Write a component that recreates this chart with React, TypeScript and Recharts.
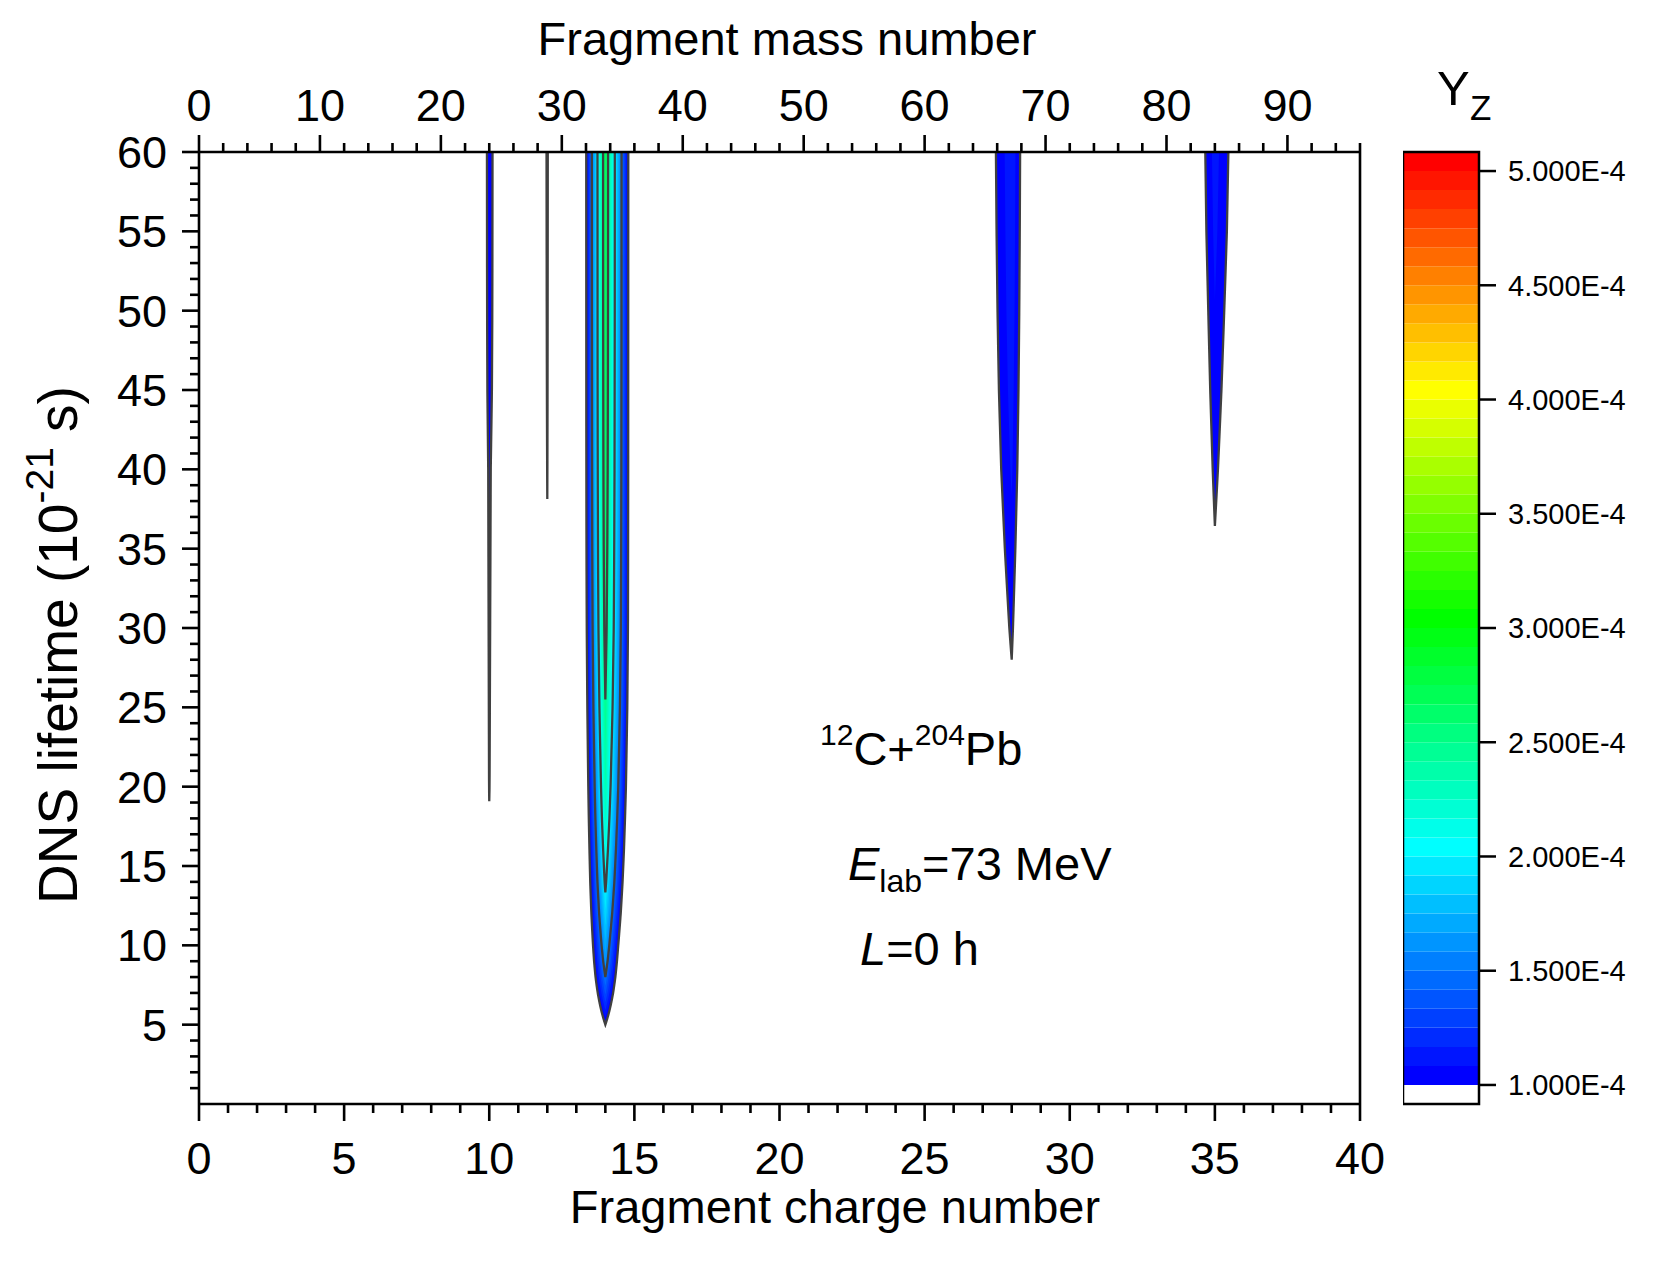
import React from 'react';
import { ComposedChart, Area, Line, XAxis, YAxis, ReferenceLine, ReferenceArea } from 'recharts';

const FONT = '"Liberation Sans", Arial, Helvetica, sans-serif';

// ---------------- data ----------------
// DNS lifetime grid (units of 1E-21 s)
const lifetimes = [0, 2, 4, 5, 6, 7, 8, 9, 10, 12, 14, 16, 18, 20, 25, 30, 35, 40, 45, 50, 55, 60];

// Yield Y_Z (units of 1E-4) for each fragment charge, same order as lifetimes
const yieldZ9 = [0, 0.04, 0.07, 0.09, 0.1, 0.11, 0.12, 0.13, 0.14, 0.15, 0.16, 0.17, 0.18, 0.18, 0.185, 0.19, 0.19, 0.19, 0.19, 0.19, 0.19, 0.19];
const yieldZ10 = [0, 0.2, 0.4, 0.5, 0.55, 0.6, 0.65, 0.7, 0.75, 0.82, 0.89, 0.95, 0.993, 1.006, 1.012, 1.018, 1.024, 1.03, 1.056, 1.065, 1.068, 1.07];
const yieldZ11 = [0, 0.08, 0.17, 0.21, 0.23, 0.25, 0.27, 0.29, 0.31, 0.34, 0.37, 0.4, 0.42, 0.43, 0.435, 0.44, 0.44, 0.445, 0.445, 0.45, 0.45, 0.45];
const yieldZ12 = [0, 0.18, 0.38, 0.47, 0.55, 0.62, 0.68, 0.73, 0.77, 0.83, 0.87, 0.9, 0.92, 0.94, 0.97, 0.985, 0.995, 1.003, 1.008, 1.011, 1.013, 1.015];
const yieldZ13 = [0, 0.005, 0.01, 0.012, 0.015, 0.018, 0.02, 0.022, 0.025, 0.03, 0.035, 0.04, 0.05, 0.06, 0.09, 0.11, 0.12, 0.12, 0.12, 0.12, 0.12, 0.12];
const yieldZ14 = [0, 0.3, 0.78, 1.0, 1.18, 1.35, 1.5, 1.62, 1.72, 1.9, 2.05, 2.16, 2.26, 2.34, 2.49, 2.59, 2.64, 2.67, 2.685, 2.695, 2.7, 2.7];
const yieldZ15 = [0, 0.01, 0.02, 0.025, 0.03, 0.04, 0.05, 0.07, 0.1, 0.2, 0.28, 0.35, 0.4, 0.45, 0.52, 0.55, 0.55, 0.55, 0.55, 0.55, 0.55, 0.55];
const yieldZ27 = [0, 0.08, 0.15, 0.19, 0.23, 0.27, 0.3, 0.34, 0.38, 0.46, 0.52, 0.57, 0.62, 0.67, 0.74, 0.775, 0.806, 0.832, 0.85, 0.861, 0.869, 0.874];
const yieldZ28 = [0, 0.1, 0.2, 0.25, 0.3, 0.35, 0.4, 0.45, 0.5, 0.6, 0.68, 0.75, 0.82, 0.88, 0.97, 1.02, 1.06, 1.095, 1.118, 1.133, 1.143, 1.15];
const yieldZ29 = [0, 0.06, 0.11, 0.14, 0.17, 0.19, 0.22, 0.25, 0.28, 0.33, 0.37, 0.41, 0.45, 0.48, 0.53, 0.56, 0.583, 0.602, 0.615, 0.623, 0.629, 0.633];
const yieldZ34 = [0, 0.05, 0.11, 0.135, 0.16, 0.19, 0.22, 0.24, 0.27, 0.32, 0.37, 0.42, 0.46, 0.5, 0.58, 0.64, 0.668, 0.692, 0.712, 0.729, 0.746, 0.756];
const yieldZ35 = [0, 0.08, 0.16, 0.2, 0.24, 0.28, 0.32, 0.36, 0.4, 0.48, 0.55, 0.62, 0.68, 0.74, 0.86, 0.95, 0.99, 1.025, 1.055, 1.08, 1.105, 1.12];
const yieldZ36 = [0, 0.06, 0.12, 0.15, 0.18, 0.22, 0.25, 0.28, 0.31, 0.37, 0.42, 0.48, 0.52, 0.57, 0.66, 0.73, 0.762, 0.789, 0.812, 0.832, 0.851, 0.862];

const chargeColumns: Record<number, number[]> = {
  9: yieldZ9, 10: yieldZ10, 11: yieldZ11, 12: yieldZ12, 13: yieldZ13, 14: yieldZ14, 15: yieldZ15,
  27: yieldZ27, 28: yieldZ28, 29: yieldZ29, 34: yieldZ34, 35: yieldZ35, 36: yieldZ36,
};
const peakCharges = [10, 12, 14, 28, 35];

// contour levels (units of 1E-4)
const fillLevels = Array.from({ length: 49 }, (_, i) => 1 + i / 12);
const contourLineLevels = [1.0, 1.5, 2.0, 2.5];
const colorbarTicks = [1.0, 1.5, 2.0, 2.5, 3.0, 3.5, 4.0, 4.5, 5.0];
const colorbarMin = 1 - 1 / 12;
const colorbarMax = 5 + 1 / 12;

// axis ticks
const chargeMajorTicks = [0, 5, 10, 15, 20, 25, 30, 35, 40];
const massMajorTicks = [0, 10, 20, 30, 40, 50, 60, 70, 80, 90];
const lifetimeMajorTicks = [5, 10, 15, 20, 25, 30, 35, 40, 45, 50, 55, 60];
const chargeTicks = Array.from({ length: 41 }, (_, i) => i);
const massTicks = Array.from({ length: 49 }, (_, i) => i * 2);
const lifetimeTicks = Array.from({ length: 60 }, (_, i) => i + 1);

// ---------------- colour map ----------------
const colorStops: [number, [number, number, number]][] = [
  [1, [0, 0, 255]],
  [2, [0, 255, 255]],
  [3, [0, 255, 0]],
  [4, [255, 255, 0]],
  [5, [255, 0, 0]],
];
function levelColor(v: number): string {
  const c = Math.max(colorStops[0][0], Math.min(colorStops[colorStops.length - 1][0], v));
  for (let i = 0; i < colorStops.length - 1; i++) {
    const [v0, c0] = colorStops[i];
    const [v1, c1] = colorStops[i + 1];
    if (c >= v0 && c <= v1) {
      const f = (c - v0) / (v1 - v0);
      const r = Math.round(c0[0] + (c1[0] - c0[0]) * f);
      const g = Math.round(c0[1] + (c1[1] - c0[1]) * f);
      const b = Math.round(c0[2] + (c1[2] - c0[2]) * f);
      return `rgb(${r},${g},${b})`;
    }
  }
  return 'rgb(255,0,0)';
}

// ---------------- contour geometry (data space) ----------------
type Pt = { z: number; range: [number, number] };
const LAST = lifetimes.length - 1;
const T_TOP = lifetimes[LAST];

function colVal(z: number, i: number): number {
  const c = chargeColumns[z];
  return c ? c[i] : 0;
}
function rowAt(Z: number): number[] {
  const k = Math.floor(Z);
  const f = Z - k;
  return lifetimes.map((_, i) => colVal(k, i) * (1 - f) + colVal(k + 1, i) * f);
}
function lowestLifetime(row: number[], L: number): number | null {
  if (row[LAST] < L) return null;
  for (let i = 0; i < row.length; i++) {
    if (row[i] >= L) {
      if (i === 0) return lifetimes[0];
      const v0 = row[i - 1];
      return lifetimes[i - 1] + ((L - v0) / (row[i] - v0)) * (lifetimes[i] - lifetimes[i - 1]);
    }
  }
  return null;
}
function levelRegion(k: number, L: number): Pt[] | null {
  const center = colVal(k, LAST);
  if (center < L) return null;
  const left = colVal(k - 1, LAST);
  const right = colVal(k + 1, LAST);
  const zl = k - 1 + (L - left) / (center - left);
  const zr = k + (center - L) / (center - right);
  const pts: Pt[] = [{ z: zl, range: [T_TOP, T_TOP] }];
  const step = 0.004;
  const n0 = Math.ceil(zl / step);
  const n1 = Math.floor(zr / step);
  const zs: number[] = [];
  for (let n = n0; n <= n1; n++) zs.push(n * step);
  zs.push(k);
  zs.sort((a, b) => a - b);
  let prev = -1;
  for (const z of zs) {
    if (z <= zl + 1e-6 || z >= zr - 1e-6) continue;
    if (Math.abs(z - prev) < 1e-6) continue;
    prev = z;
    const t = lowestLifetime(rowAt(z), L);
    if (t != null) pts.push({ z, range: [t, T_TOP] });
  }
  pts.push({ z: zr, range: [T_TOP, T_TOP] });
  return pts;
}

const fillRegions: { key: string; color: string; data: Pt[] }[] = [];
for (const k of peakCharges) {
  for (const L of fillLevels) {
    const d = levelRegion(k, L);
    if (d) fillRegions.push({ key: `f-${k}-${L.toFixed(4)}`, color: levelColor(L), data: d });
  }
}
const lineRegions: { key: string; data: Pt[] }[] = [];
for (const k of peakCharges) {
  for (const L of contourLineLevels) {
    const d = levelRegion(k, L);
    if (d) lineRegions.push({ key: `l-${k}-${L}`, data: d });
  }
}
const colorbarBands = [
  { lo: colorbarMin, hi: 1, color: '#ffffff' },
  ...fillLevels.map((L) => ({ lo: L, hi: L + 1 / 12, color: levelColor(L) })),
];

// ---------------- ticks ----------------
const AXIS_W = 2.6;
const MAJOR = 17;
const MINOR = 9;
const TICK_FS = 45;

function BottomTick(props: any) {
  const { x, y, payload } = props;
  const v = payload.value;
  const major = chargeMajorTicks.includes(v);
  return (
    <g>
      <line x1={x} x2={x} y1={y} y2={y + (major ? MAJOR : MINOR)} stroke="#000" strokeWidth={AXIS_W} />
      {major && (
        <text x={x} y={y + 70} textAnchor="middle" fontSize={TICK_FS} fontFamily={FONT} fill="#000">
          {v}
        </text>
      )}
    </g>
  );
}
function TopTick(props: any) {
  const { x, y, payload } = props;
  const v = payload.value;
  const major = massMajorTicks.includes(v);
  return (
    <g>
      <line x1={x} x2={x} y1={y} y2={y - (major ? MAJOR : MINOR)} stroke="#000" strokeWidth={AXIS_W} />
      {major && (
        <text x={x} y={y - 31} textAnchor="middle" fontSize={TICK_FS} fontFamily={FONT} fill="#000">
          {v}
        </text>
      )}
    </g>
  );
}
function LeftTick(props: any) {
  const { x, y, payload } = props;
  const v = payload.value;
  const major = lifetimeMajorTicks.includes(v);
  return (
    <g>
      <line x1={x} x2={x - (major ? MAJOR : MINOR)} y1={y} y2={y} stroke="#000" strokeWidth={AXIS_W} />
      {major && (
        <text x={x - 32} y={y + 16} textAnchor="end" fontSize={TICK_FS} fontFamily={FONT} fill="#000">
          {v}
        </text>
      )}
    </g>
  );
}

// ---------------- component ----------------
export default function App() {
  return (
    <div style={{ position: 'absolute', left: 0, top: 0, width: 1661, height: 1271, background: '#fff', overflow: 'hidden' }}>
      <div style={{ position: 'absolute', left: 0, top: 0 }}>
        <ComposedChart width={1661} height={1271} margin={{ top: 0, right: 301, bottom: 0, left: 0 }}>
          <XAxis
            xAxisId="charge"
            dataKey="z"
            type="number"
            orientation="bottom"
            domain={[0, 40]}
            allowDataOverflow
            ticks={chargeTicks}
            interval={0}
            height={167}
            tickSize={0}
            tickMargin={0}
            tickLine={false}
            axisLine={{ stroke: '#000', strokeWidth: AXIS_W }}
            tick={BottomTick}
          />
          <XAxis
            xAxisId="mass"
            dataKey="z"
            type="number"
            orientation="top"
            domain={[0, 96]}
            allowDataOverflow
            ticks={massTicks}
            interval={0}
            height={152}
            tickSize={0}
            tickMargin={0}
            tickLine={false}
            axisLine={{ stroke: '#000', strokeWidth: AXIS_W }}
            tick={TopTick}
          />
          <YAxis
            yAxisId="life"
            type="number"
            orientation="left"
            domain={[0, 60]}
            allowDataOverflow
            ticks={lifetimeTicks}
            interval={0}
            width={199}
            tickSize={0}
            tickMargin={0}
            tickLine={false}
            axisLine={{ stroke: '#000', strokeWidth: AXIS_W }}
            tick={LeftTick}
          />
          {fillRegions.map((r) => (
            <Area
              key={r.key}
              xAxisId="charge"
              yAxisId="life"
              data={r.data}
              dataKey="range"
              type="linear"
              fill={r.color}
              fillOpacity={1}
              stroke="none"
              dot={false}
              activeDot={false}
              isAnimationActive={false}
            />
          ))}
          {lineRegions.map((r) => (
            <Line
              key={r.key}
              xAxisId="charge"
              yAxisId="life"
              data={r.data}
              dataKey={(d: Pt) => d.range[0]}
              type="linear"
              stroke="#404040"
              strokeWidth={2.3}
              dot={false}
              activeDot={false}
              isAnimationActive={false}
            />
          ))}
          <ReferenceLine xAxisId="charge" yAxisId="life" x={40} stroke="#000" strokeWidth={AXIS_W} />
        </ComposedChart>
      </div>

      <div style={{ position: 'absolute', left: 1403, top: 0 }}>
        <ComposedChart width={258} height={1271} margin={{ top: 152, right: 0, bottom: 167, left: 0 }} data={[{ x: 0 }, { x: 1 }]}>
          <XAxis xAxisId="cb" dataKey="x" type="number" domain={[0, 1]} hide />
          <YAxis
            yAxisId="cb"
            orientation="right"
            type="number"
            domain={[colorbarMin, colorbarMax]}
            allowDataOverflow
            ticks={colorbarTicks}
            interval={0}
            width={182}
            tickSize={17}
            tickMargin={12}
            axisLine={false}
            tickLine={{ stroke: '#000', strokeWidth: 2.5 }}
            tick={{ fontSize: 29, fill: '#000', fontFamily: FONT }}
            tickFormatter={(v: number) => `${v.toFixed(3)}E-4`}
          />
          {colorbarBands.map((b, i) => (
            <ReferenceArea
              key={`cb-${i}`}
              xAxisId="cb"
              yAxisId="cb"
              x1={0}
              x2={1}
              y1={b.lo}
              y2={b.hi}
              fill={b.color}
              fillOpacity={1}
              stroke="none"
              ifOverflow="visible"
            />
          ))}
          <ReferenceArea
            xAxisId="cb"
            yAxisId="cb"
            x1={0}
            x2={1}
            y1={colorbarMin}
            y2={colorbarMax}
            fill="none"
            fillOpacity={0}
            stroke="#000"
            strokeWidth={2.5}
            ifOverflow="visible"
          />
        </ComposedChart>
      </div>

      <svg
        width={1661}
        height={1271}
        style={{ position: 'absolute', left: 0, top: 0, pointerEvents: 'none' }}
        fontFamily={FONT}
      >
        <text x={787} y={55} textAnchor="middle" fontSize={47} fill="#000">Fragment mass number</text>
        <text x={835} y={1223} textAnchor="middle" fontSize={47} fill="#000">Fragment charge number</text>
        <text transform="translate(77,645) rotate(-90)" x={0} y={0} textAnchor="middle" fontSize={55} fill="#000">
          DNS lifetime (10
          <tspan fontSize={39} dy={-24}>-21</tspan>
          <tspan dy={24}> s)</tspan>
        </text>

        <text x={1437} y={105} fontSize={49} fill="#000">Y</text>
        <text x={1470} y={120} fontSize={35} fill="#000">Z</text>

        <text x={820} y={765} fontSize={47} fill="#000">
          <tspan fontSize={30} dy={-20}>12</tspan>
          <tspan dy={20}>C+</tspan>
          <tspan fontSize={30} dy={-20}>204</tspan>
          <tspan dy={20}>Pb</tspan>
        </text>
        <text x={848} y={880} fontSize={47} fill="#000">
          <tspan fontStyle="italic">E</tspan>
          <tspan fontSize={32} dy={12}>lab</tspan>
          <tspan dy={-12}>=73 MeV</tspan>
        </text>
        <text x={860} y={965} fontSize={47} fill="#000">
          <tspan fontStyle="italic">L</tspan>
          <tspan>=0 h</tspan>
        </text>
      </svg>
    </div>
  );
}
